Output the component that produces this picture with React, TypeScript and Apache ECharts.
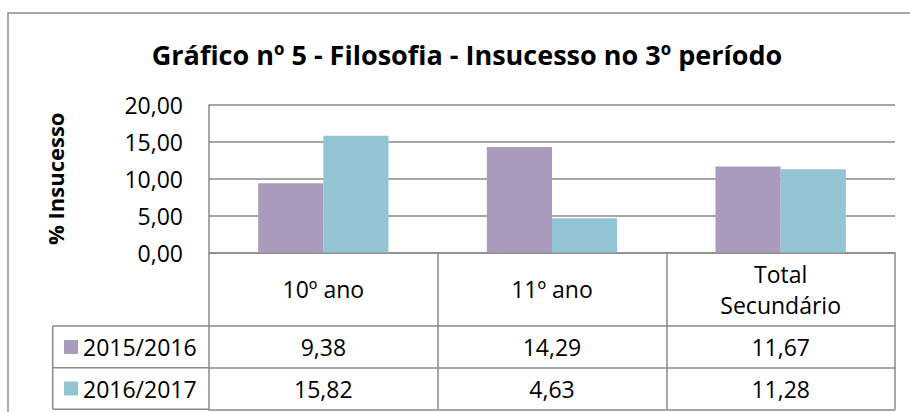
import React, { useEffect, useRef } from "react";
import * as echarts from "echarts";

const categories = ["10º ano", "11º ano", "Total Secundário"];
const seriesNames = ["2015/2016", "2016/2017"];
const values2015 = [9.38, 14.29, 11.67];
const values2016 = [15.82, 4.63, 11.28];
const yMin = 0;
const yMax = 20;
const yInterval = 5;
const titleText = "Gráfico nº 5 - Filosofia - Insucesso no 3º período";
const yAxisTitle = "% Insucesso";

const colors = ["#AA9BBD", "#93C4D4"];
const lineColor = "#8a8a8a";
const FONT = "'Open Sans', sans-serif";

const fmt = (v: number) => v.toFixed(2).replace(".", ",");
const wrapLabel = (v: string) => (v.length > 10 ? v.replace(" ", "\n") : v);

export default function App() {
  const ref = useRef<HTMLDivElement>(null);
  useEffect(() => {
    if (!ref.current) return;
    const chart = echarts.init(ref.current, null, { renderer: "svg" });
    const gridTop = 105;
    const gridBottomY = 252.5;
    const rowLines = [326, 367.7, 409.3];
    const legendLeft = 52.7;
    const gridLeft = 209;

    const valueAxis = (values: number[] | null, lineY: number, nextY: number | null) => ({
      type: "category",
      gridIndex: 0,
      position: "bottom",
      data: categories,
      offset: lineY - gridBottomY,
      axisLine: { show: true, lineStyle: { color: lineColor, width: 1.5 } },
      axisTick: { show: false },
      axisLabel: values
        ? {
            show: true,
            interval: 0,
            margin: nextY !== null ? (nextY - lineY) / 2 : 20,
            verticalAlign: "middle",
            color: "#000",
            fontFamily: FONT,
            fontSize: 23,
            formatter: (_v: string, i: number) => fmt(values[i]),
          }
        : { show: false },
      splitLine: { show: false },
    });

    chart.setOption({
      animation: false,
      backgroundColor: "#fff",
      title: {
        text: titleText,
        left: 462,
        top: 31,
        textAlign: "center",
        textStyle: {
          fontFamily: FONT,
          fontWeight: "bold",
          fontSize: 27,
          color: "#000",
          lineHeight: 36,
        },
      },
      legend: {
        orient: "vertical",
        left: 64,
        top: 333,
        padding: 0,
        itemWidth: 14,
        itemHeight: 14,
        itemGap: 13.5,
        icon: "rect",
        selectedMode: false,
        textStyle: { fontFamily: FONT, fontSize: 23, color: "#000", lineHeight: 28 },
        data: seriesNames,
      },
      grid: {
        left: gridLeft,
        right: 15,
        top: gridTop,
        bottom: 412 - gridBottomY,
        containLabel: false,
      },
      xAxis: [
        {
          type: "category",
          data: categories,
          position: "bottom",
          axisLine: { show: true, lineStyle: { color: lineColor, width: 1.5 } },
          axisTick: {
            show: true,
            interval: 0,
            length: rowLines[2] - gridBottomY,
            lineStyle: { color: lineColor, width: 1.5 },
          },
          axisLabel: {
            show: true,
            interval: 0,
            margin: (rowLines[0] - gridBottomY) / 2,
            verticalAlign: "middle",
            color: "#000",
            fontFamily: FONT,
            fontSize: 23,
            lineHeight: 31,
            formatter: (v: string) => wrapLabel(v),
          },
        },
        valueAxis(values2015, rowLines[0], rowLines[1]),
        valueAxis(values2016, rowLines[1], rowLines[2]),
        valueAxis(null, rowLines[2], null),
      ],
      yAxis: {
        type: "value",
        min: yMin,
        max: yMax,
        interval: yInterval,
        name: yAxisTitle,
        nameLocation: "middle",
        nameRotate: 90,
        nameGap: 154,
        nameTextStyle: {
          fontFamily: FONT,
          fontWeight: "bold",
          fontSize: 22,
          color: "#000",
          verticalAlign: "middle",
        },
        axisLine: { show: true, lineStyle: { color: lineColor, width: 1.5 } },
        axisTick: { show: false },
        axisLabel: {
          margin: 26,
          color: "#000",
          fontFamily: FONT,
          fontSize: 23,
          formatter: (v: number) => fmt(v),
        },
        splitLine: { show: true, lineStyle: { color: lineColor, width: 1.5 } },
      },
      series: [
        {
          name: seriesNames[0],
          type: "bar",
          xAxisIndex: 0,
          data: values2015,
          barGap: "0%",
          barCategoryGap: "43%",
          itemStyle: { color: colors[0] },
        },
        {
          name: seriesNames[1],
          type: "bar",
          xAxisIndex: 0,
          data: values2016,
          barGap: "0%",
          barCategoryGap: "43%",
          itemStyle: { color: colors[1] },
        },
      ],
      graphic: [
        {
          type: "rect",
          z: -10,
          silent: true,
          shape: { x: 8, y: 13, width: 910, height: 420 },
          style: { fill: "none", stroke: lineColor, lineWidth: 1.5 },
        },
        ...rowLines.map((y) => ({
          type: "line",
          silent: true,
          shape: { x1: legendLeft, y1: y, x2: gridLeft, y2: y },
          style: { stroke: lineColor, lineWidth: 1.5 },
        })),
        {
          type: "line",
          silent: true,
          shape: { x1: legendLeft, y1: rowLines[0], x2: legendLeft, y2: rowLines[2] },
          style: { stroke: lineColor, lineWidth: 1.5 },
        },
      ],
    });
    return () => chart.dispose();
  }, []);
  return (
    <div
      ref={ref}
      style={{ position: "fixed", left: 0, top: 0, width: 910, height: 412 }}
    />
  );
}
